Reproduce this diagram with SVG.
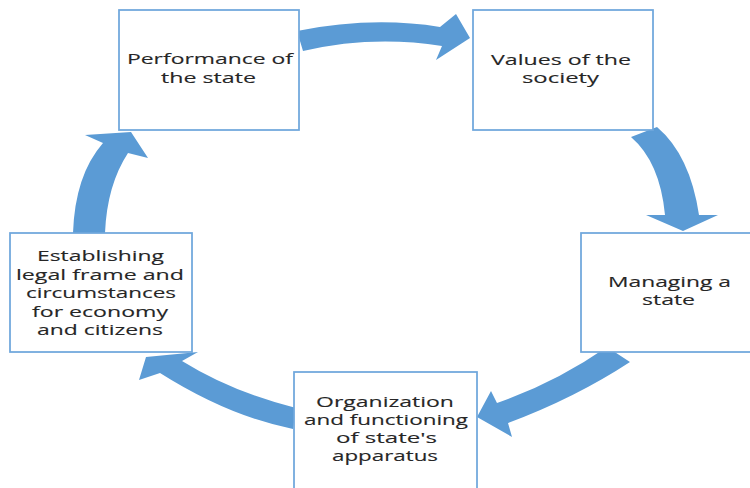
<svg xmlns="http://www.w3.org/2000/svg" width="750" height="488" viewBox="0 0 750 488">
  <style>
    .box { fill: #ffffff; stroke: #6fa7dc; stroke-width: 1.75; }
    .label { font-family: "Open Sans", "Liberation Sans", sans-serif; font-size: 14.5px; fill: #262626; stroke: #262626; stroke-width: 0.12; text-anchor: middle; }
    .flow { fill: #5b9bd5; }
  </style>
  <rect width="750" height="488" fill="#ffffff"/>

  <!-- curved block arrows linking the cycle -->
  <g id="connectors">
    <path class="flow" d="M297,31 Q372,16 440,27 L456,14 L470,38 L436,60 L442,46 Q372,35 303,51 Z"/>
    <path class="flow" d="M631,137 L657,127 Q690,155 699,215 L718,215 L683,231 L646,215 L665,215 Q660,162 631,137 Z"/>
    <path class="flow" d="M607,347 L630,362 Q575,398 508,423 L512,437 L477,417 L491,391 L497,403 Q555,383 607,347 Z"/>
    <path class="flow" d="M296,408 L293,429 Q228,416 160,373 L139,380 L146,357 L198,352 L182,361 Q232,392 296,408 Z"/>
    <path class="flow" d="M73,233 Q75,175 103,143 L85,135 L131,132 L148,158 L128,153 Q107,185 105,233 Z"/>
  </g>

  <g id="performance">
    <rect class="box" x="119" y="10" width="180" height="120"/>
    <text class="label" x="210" y="64" textLength="166" lengthAdjust="spacingAndGlyphs">Performance of</text>
    <text class="label" x="208.5" y="82.5" textLength="95" lengthAdjust="spacingAndGlyphs">the state</text>
  </g>

  <g id="values">
    <rect class="box" x="473" y="10" width="180" height="120"/>
    <text class="label" x="561" y="64.5" textLength="140" lengthAdjust="spacingAndGlyphs">Values of the</text>
    <text class="label" x="560.5" y="82.5" textLength="77" lengthAdjust="spacingAndGlyphs">society</text>
  </g>

  <g id="managing">
    <rect class="box" x="581" y="233" width="180" height="119"/>
    <text class="label" x="669.5" y="287" textLength="123" lengthAdjust="spacingAndGlyphs">Managing a</text>
    <text class="label" x="668.5" y="305" textLength="53" lengthAdjust="spacingAndGlyphs">state</text>
  </g>

  <g id="organization">
    <rect class="box" x="294" y="372" width="183" height="120"/>
    <text class="label" x="385" y="406.5" textLength="138" lengthAdjust="spacingAndGlyphs">Organization</text>
    <text class="label" x="386" y="425" textLength="164" lengthAdjust="spacingAndGlyphs">and functioning</text>
    <text class="label" x="386.5" y="443" textLength="101" lengthAdjust="spacingAndGlyphs">of state's</text>
    <text class="label" x="385" y="461" textLength="106" lengthAdjust="spacingAndGlyphs">apparatus</text>
  </g>

  <g id="legal-frame">
    <rect class="box" x="10" y="233" width="182" height="119"/>
    <text class="label" x="100.5" y="261" textLength="127" lengthAdjust="spacingAndGlyphs">Establishing</text>
    <text class="label" x="100" y="279.5" textLength="168" lengthAdjust="spacingAndGlyphs">legal frame and</text>
    <text class="label" x="101" y="298" textLength="150" lengthAdjust="spacingAndGlyphs">circumstances</text>
    <text class="label" x="100" y="316.5" textLength="136" lengthAdjust="spacingAndGlyphs">for economy</text>
    <text class="label" x="100" y="335" textLength="126" lengthAdjust="spacingAndGlyphs">and citizens</text>
  </g>
</svg>
